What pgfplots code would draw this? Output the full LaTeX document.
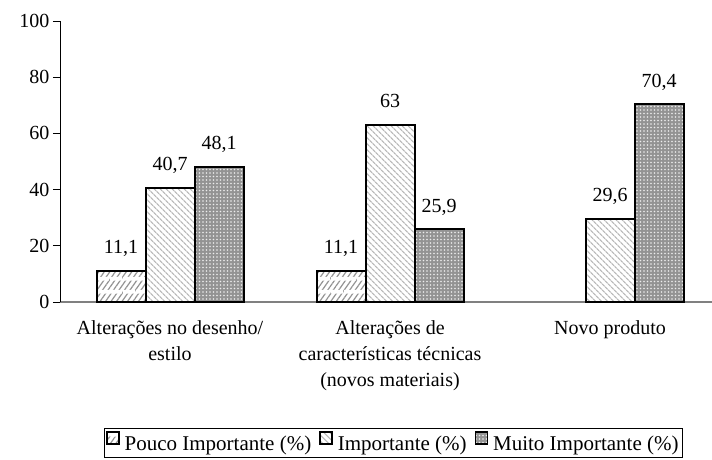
\documentclass[border=0pt]{standalone}
\usepackage{fontspec}
\setmainfont{Liberation Serif}
\usepackage{pgfplots}
\pgfplotsset{compat=1.18}
\usetikzlibrary{patterns.meta}
\pgfplotstableread{
x y
0 11.1
1 11.1
}\pouco
\pgfplotstableread{
x y
0 40.7
1 63
2 29.6
}\importante
\pgfplotstableread{
x y
0 48.1
1 25.9
2 70.4
}\muito
\begin{document}
\begin{tikzpicture}[font=\fontsize{20}{26}\selectfont]
\begin{axis}[
 at={(0,0)}, anchor=south west,
 scale only axis, width=652pt, height=281pt,
 xmin=-0.5, xmax=2.4636, ymin=0, ymax=100,
 enlargelimits=false,
 axis x line*=bottom, axis y line*=left,
 x axis line style={draw=gray, line width=1.5pt, -},
 y axis line style={draw=black, line width=0.8pt, -},
 ytick={0,20,...,100},
 ytick style={black, line width=0.8pt},
 tick align=outside, major tick length=7pt,
 xtick={0,1,2},
 xticklabels={{Alterações no desenho/\\estilo},{Alterações de\\características técnicas\\(novos materiais)},{Novo produto}},
 x tick style={draw=none},
 xticklabel style={align=center, yshift=-8pt},
 ybar=0pt, bar width=49pt,
 nodes near coords={\pgfmathprintnumber{\pgfplotspointmeta}},
 every node near coord/.append style={anchor=base, yshift=17pt, black},
 /pgf/number format/use comma,
 /pgf/number format/1000 sep={},
 /pgf/number format/assume math mode=true,
 legend columns=3,
 legend style={at={(0.9555,-0.4484)}, anchor=north east, draw=black, line width=0.8pt,
   font=\fontsize{21}{26}\selectfont, inner xsep=2pt, inner ysep=3pt,
   /tikz/every odd column/.append style={column sep=3pt},
   /tikz/every even column/.append style={column sep=6pt}},
 legend image code/.code={\draw[#1, line width=1.5pt] (0pt,0pt) rectangle (12pt,12pt);},
]
\addplot[draw=black, line width=2pt, fill=white,
  postaction={pattern={Lines[angle=55, distance=4.5pt, line width=1.2pt]}, pattern color=gray!85},
  postaction={pattern={Lines[angle=0, distance=13pt, line width=4pt]}, pattern color=white}]
  table[x=x,y=y] {\pouco};
\addplot[draw=black, line width=2pt, fill=white,
  postaction={pattern={Lines[angle=-45, distance=4pt, line width=1.3pt]}, pattern color=gray!55}]
  table[x=x,y=y] {\importante};
\addplot[draw=black, line width=2pt, fill=gray!85,
  postaction={pattern={Dots[distance=3.5pt, radius=0.9pt]}, pattern color=white!85!gray}]
  table[x=x,y=y] {\muito};
\legend{Pouco Importante (\%), Importante (\%), Muito Importante (\%)}
\end{axis}
\pgfresetboundingbox
\useasboundingbox (-60pt,-158pt) rectangle (652pt,302pt);
\end{tikzpicture}
\end{document}
